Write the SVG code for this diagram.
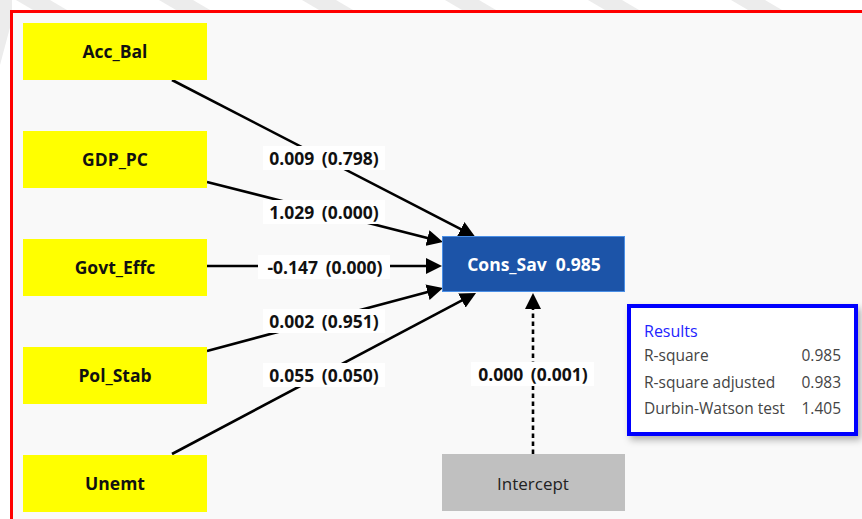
<svg xmlns="http://www.w3.org/2000/svg" width="862" height="519" viewBox="0 0 862 519">
  <defs>
    <style>
      .node-y { fill: #ffff00; }
      .lbl-node { font-family: "Open Sans", "Noto Sans", sans-serif; font-weight: bold; font-size: 17.5px; fill: #111; text-anchor: middle; }
      .edge { stroke: #000; stroke-width: 2.6; fill: none; marker-end: url(#arrow); }
      .edge-dash { stroke-dasharray: 4.5 3.5; }
      .edge-bg { fill: #ffffff; }
      .edge-lbl { font-family: "Open Sans", "Noto Sans", sans-serif; font-weight: bold; font-size: 17.5px; fill: #111; text-anchor: middle; word-spacing: 3px; }
      .res-txt { font-family: "Open Sans", "Noto Sans", sans-serif; font-size: 15.5px; fill: #444; }
      .stripe { fill: #ececec; }
    </style>
    <marker id="arrow" markerUnits="userSpaceOnUse" markerWidth="16" markerHeight="16" refX="6" refY="8" orient="auto">
      <path d="M0,0 L16,8 L0,16 z" fill="#000"/>
    </marker>
    <filter id="shadow" x="-10%" y="-10%" width="130%" height="140%">
      <feDropShadow dx="3" dy="4" stdDeviation="3.5" flood-color="#000" flood-opacity="0.3"/>
    </filter>
  </defs>

  <!-- page background with faint diagonal bands -->
  <rect x="0" y="0" width="862" height="519" fill="#ffffff"/>
  <g id="bands">
    <polygon class="stripe" points="16,0 50,0 67,10 33,10"/>
    <polygon class="stripe" points="159,0 193,0 210,10 176,10"/>
    <polygon class="stripe" points="302,0 336,0 353,10 319,10"/>
    <polygon class="stripe" points="445,0 479,0 496,10 462,10"/>
    <polygon class="stripe" points="588,0 622,0 639,10 605,10"/>
    <polygon class="stripe" points="731,0 765,0 782,10 748,10"/>
    <polygon class="stripe" points="0,0 12,0 12,20 0,65"/>
  </g>

  <!-- canvas frame -->
  <rect x="11.5" y="11.5" width="860" height="520" fill="#f9f9f9" stroke="#ff0000" stroke-width="3"/>

  <!-- connectors -->
  <g id="connectors">
    <line class="edge" x1="172" y1="80" x2="466.1" y2="231.9"/>
    <line class="edge" x1="207" y1="182" x2="433.3" y2="239.5"/>
    <line class="edge" x1="207" y1="266" x2="432" y2="266"/>
    <line class="edge" x1="207" y1="351" x2="433.3" y2="290.6"/>
    <line class="edge" x1="172" y1="454" x2="467.2" y2="297.7"/>
    <line class="edge edge-dash" x1="533" y1="454" x2="533" y2="303"/>

    <g id="lbl-acc">
      <rect class="edge-bg" x="263" y="146" width="122" height="24"/>
      <text class="edge-lbl" x="324" y="164.5">0.009 (0.798)</text>
    </g>
    <g id="lbl-gdp">
      <rect class="edge-bg" x="263" y="200" width="122" height="24"/>
      <text class="edge-lbl" x="324" y="218.5">1.029 (0.000)</text>
    </g>
    <g id="lbl-govt">
      <rect class="edge-bg" x="258" y="255" width="132" height="24"/>
      <text class="edge-lbl" x="325" y="273.5">-0.147 (0.000)</text>
    </g>
    <g id="lbl-pol">
      <rect class="edge-bg" x="263" y="309" width="122" height="24"/>
      <text class="edge-lbl" x="324" y="327.5">0.002 (0.951)</text>
    </g>
    <g id="lbl-unemt">
      <rect class="edge-bg" x="263" y="363" width="122" height="24"/>
      <text class="edge-lbl" x="324" y="381.5">0.055 (0.050)</text>
    </g>
    <g id="lbl-intercept">
      <rect class="edge-bg" x="471" y="362" width="123" height="24"/>
      <text class="edge-lbl" x="533" y="380.5">0.000 (0.001)</text>
    </g>
  </g>

  <!-- predictor nodes -->
  <g id="Acc_Bal">
    <rect class="node-y" x="23" y="23" width="184" height="57"/>
    <text class="lbl-node" x="115" y="58">Acc_Bal</text>
  </g>
  <g id="GDP_PC">
    <rect class="node-y" x="23" y="131" width="184" height="57"/>
    <text class="lbl-node" x="115" y="166">GDP_PC</text>
  </g>
  <g id="Govt_Effc">
    <rect class="node-y" x="23" y="239" width="184" height="57"/>
    <text class="lbl-node" x="115" y="274">Govt_Effc</text>
  </g>
  <g id="Pol_Stab">
    <rect class="node-y" x="23" y="347" width="184" height="57"/>
    <text class="lbl-node" x="115" y="382">Pol_Stab</text>
  </g>
  <g id="Unemt">
    <rect class="node-y" x="23" y="455" width="184" height="57"/>
    <text class="lbl-node" x="115" y="490">Unemt</text>
  </g>

  <!-- dependent variable -->
  <g id="Cons_Sav">
    <rect x="442.5" y="236.5" width="182" height="55" fill="#1c54a8" stroke="#4a8fe6" stroke-width="1"/>
    <text class="lbl-node" x="534" y="271" style="fill:#ffffff" xml:space="preserve">Cons_Sav  0.985</text>
  </g>

  <!-- intercept -->
  <g id="Intercept">
    <rect x="442" y="454" width="183" height="57" fill="#c0c0c0"/>
    <text x="533" y="490" font-family="Open Sans, Noto Sans, sans-serif" font-size="17px" fill="#222" text-anchor="middle">Intercept</text>
  </g>

  <!-- model summary -->
  <g id="Results">
    <rect x="629" y="306" width="227" height="128" fill="#ffffff" stroke="#0000ff" stroke-width="4" filter="url(#shadow)"/>
    <text x="644" y="337" font-family="Open Sans, Noto Sans, sans-serif" font-size="16px" fill="#2323ff">Results</text>
    <text class="res-txt" x="644" y="361">R-square</text>
    <text class="res-txt" x="841" y="361" text-anchor="end">0.985</text>
    <text class="res-txt" x="644" y="388">R-square adjusted</text>
    <text class="res-txt" x="841" y="388" text-anchor="end">0.983</text>
    <text class="res-txt" x="644" y="414">Durbin-Watson test</text>
    <text class="res-txt" x="841" y="414" text-anchor="end">1.405</text>
  </g>
</svg>
